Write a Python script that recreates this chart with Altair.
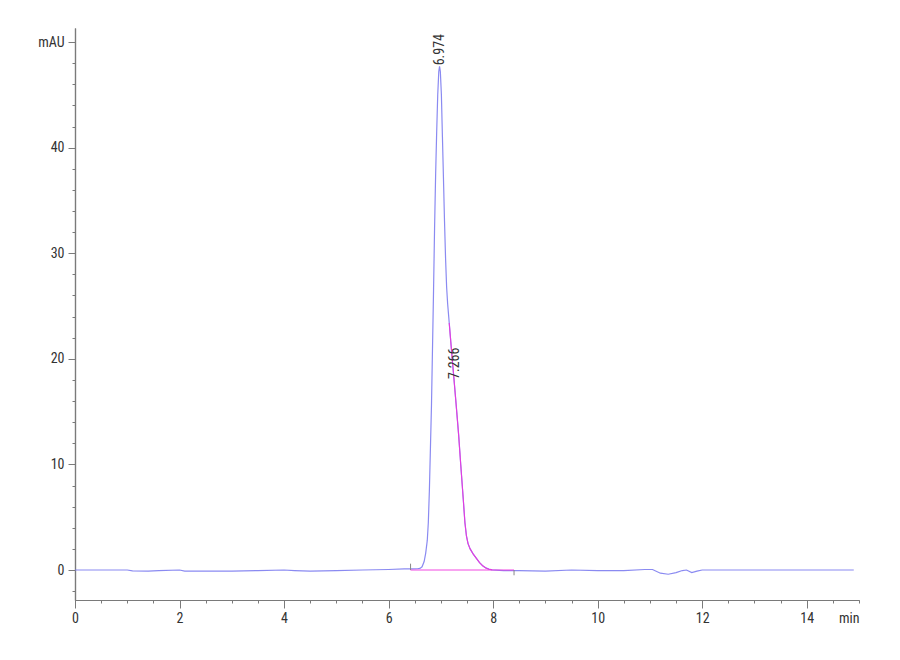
import altair as alt
import pandas as pd

# ---- chromatogram trace (time in min, absorbance in mAU) ----
time = [0.0, 0.5, 1.0, 1.1, 1.4, 1.6, 2.0, 2.1, 3.0, 3.5, 4.0, 4.2, 4.5, 5.0, 5.5,
        6.0, 6.3, 6.45, 6.55, 6.60, 6.64, 6.68, 6.71, 6.74, 6.76, 6.78, 6.80, 6.82,
        6.84, 6.86, 6.88, 6.90, 6.92, 6.94, 6.96, 6.975, 6.99, 7.01, 7.03, 7.05,
        7.07, 7.09, 7.11, 7.13, 7.16, 7.20, 7.24, 7.29, 7.34, 7.38, 7.43, 7.46,
        7.49, 7.52, 7.56, 7.62, 7.68, 7.74, 7.80, 7.86, 7.92, 7.98, 8.2, 8.5, 9.0,
        9.5, 10.0, 10.5, 10.9, 11.05, 11.2, 11.35, 11.5, 11.62, 11.7, 11.8, 11.9,
        12.0, 12.2, 13.0, 14.0, 14.9]
signal = [0.0, 0.0, 0.0, -0.08, -0.1, -0.05, 0.0, -0.1, -0.1, -0.05, 0.0, -0.05,
          -0.1, -0.05, 0.0, 0.05, 0.1, 0.1, 0.12, 0.15, 0.3, 0.8, 1.6, 2.8, 4.5, 7.5,
          11.5, 15.5, 21.0, 26.5, 32.5, 37.5, 41.5, 45.0, 47.2, 47.7, 47.2, 45.0,
          41.0, 37.0, 33.0, 29.5, 26.8, 25.2, 23.4, 21.0, 18.7, 15.8, 12.8, 10.0,
          6.6, 4.5, 3.2, 2.5, 2.0, 1.5, 1.1, 0.7, 0.4, 0.2, 0.08, 0.02, -0.05,
          -0.05, -0.1, 0.0, -0.05, -0.05, 0.05, 0.05, -0.3, -0.4, -0.25, -0.05, 0.0,
          -0.25, -0.1, 0.0, 0.0, 0.0, 0.0, 0.0]

# ---- integration events ----
peak_rt = [6.974, 7.266]
peak_label = ["6.974", "7.266"]
peak_height = [47.7, 18.0]
split_start = 7.16          # start of the 2nd peak's integrated trace
split_end = 7.98
baseline_t = [6.42, 8.40]   # integration baseline start / end
baseline_v = [0.0, 0.0]
marker_t = [6.42, 8.40]
marker_y2 = [0.6, -0.5]

x_min, x_max = 0, 15
y_min, y_max = -2.84, 51.33

trace = pd.DataFrame({"t": time, "v": signal})
pink_trace = trace[(trace["t"] >= split_start) & (trace["t"] <= split_end)].copy()
pink_trace["seg"] = "tail"
pink_base = pd.DataFrame({"t": baseline_t, "v": baseline_v, "seg": "base"})
pink = pd.concat([pink_trace, pink_base], ignore_index=True)
labels = pd.DataFrame({"t": peak_rt, "v": peak_height, "lab": peak_label})
markers = pd.DataFrame({"t": marker_t, "v": [0.0, 0.0], "v2": marker_y2})

FONT = "Liberation Sans Narrow, Arial Narrow, Roboto Condensed, Roboto, sans-serif"
GREY = "#7a7a7a"

x_minor = [i * 0.5 for i in range(31)]
x_major = [0, 2, 4, 6, 8, 10, 12, 14]
y_minor = list(range(-2, 51, 2))
y_major = [0, 10, 20, 30, 40, 50]

common = dict(grid=False, title=None, labelFont=FONT, labelFontSize=14,
              labelColor="#333333", domainColor=GREY, tickColor=GREY,
              domainWidth=1.2, tickWidth=1, labelOverlap=False, labelBound=False,
              labelFlush=False, offset=0)

x_major_axis = alt.Axis(orient="bottom", values=x_major, tickSize=8, labelPadding=3, **common)
x_minor_axis = alt.Axis(orient="bottom", values=x_minor, tickSize=3, labels=False, **common)
x_unit_axis = alt.Axis(orient="bottom", values=[15], tickSize=0, labelExpr="'min'",
                       labelAlign="right", labelPadding=11, domain=False, **common)
y_major_axis = alt.Axis(orient="left", values=y_major, tickSize=7, labelPadding=4,
                        labelExpr="datum.value === 50 ? 'mAU' : datum.label", **common)
y_minor_axis = alt.Axis(orient="left", values=y_minor, tickSize=3, labels=False, **common)

xs = alt.Scale(domain=[x_min, x_max], nice=False, zero=False)
ys = alt.Scale(domain=[y_min, y_max], nice=False, zero=False)

base = alt.Chart(trace)
blue = base.mark_line(color="#7676ee", strokeWidth=1.2, opacity=0.85).encode(
    x=alt.X("t:Q", scale=xs, axis=x_major_axis),
    y=alt.Y("v:Q", scale=ys, axis=y_major_axis),
    order="t:Q",
)
minor_x = base.mark_line(opacity=0).encode(
    x=alt.X("t:Q", scale=xs, axis=x_minor_axis),
    y=alt.Y("v:Q", scale=ys, axis=y_minor_axis),
    order="t:Q",
)
unit_x = base.mark_line(opacity=0).encode(
    x=alt.X("t:Q", scale=xs, axis=x_unit_axis),
    y=alt.Y("v:Q", scale=ys, axis=None),
    order="t:Q",
)
pinkl = alt.Chart(pink).mark_line(color="#ee33dd", strokeWidth=1.1, opacity=0.9).encode(
    x=alt.X("t:Q", scale=xs, axis=None),
    y=alt.Y("v:Q", scale=ys, axis=None),
    detail="seg:N", order="t:Q"
)
ticks = alt.Chart(markers).mark_rule(color="#888888", strokeWidth=1).encode(
    x=alt.X("t:Q", scale=xs, axis=None),
    y=alt.Y("v:Q", scale=ys, axis=None),
    y2="v2:Q"
)
text = alt.Chart(labels).mark_text(
    angle=270, align="left", baseline="middle", dx=1, font=FONT, fontSize=14,
    color="#333333"
).encode(
    x=alt.X("t:Q", scale=xs, axis=None),
    y=alt.Y("v:Q", scale=ys, axis=None),
    text="lab:N",
)

chart = alt.layer(minor_x, unit_x, blue, pinkl, ticks, text).resolve_axis(
    x="independent", y="independent"
).properties(
    width=784, height=572,
    background="white",
    autosize=alt.AutoSizeParams(type="none"),
    padding={"left": 67, "top": 20, "right": 30, "bottom": 40},
).configure_view(stroke=None)

chart.save("out.html", embed_options={"renderer": "svg", "actions": False})
